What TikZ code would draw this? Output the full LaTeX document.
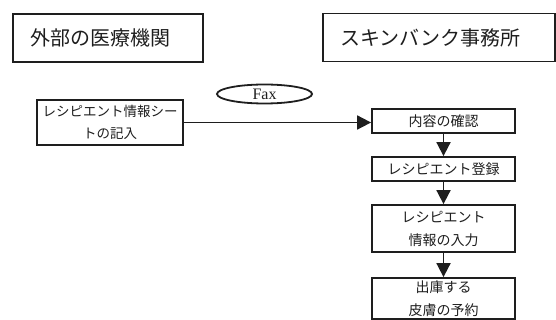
\documentclass[tikz,border=0pt]{standalone}
\usepackage{fontspec}
\setmainfont{Liberation Serif}
\newfontfamily\jp{Noto Sans CJK JP}
\usetikzlibrary{arrows.meta,shapes.geometric}
\definecolor{ink}{HTML}{1E1E1E}
\tikzset{
  header/.style={draw=ink, line width=1.9pt, rectangle, minimum height=48pt,
    font=\jp\fontsize{20}{22}\selectfont, align=left, inner xsep=17pt, inner ysep=0pt, text=ink},
  flowbox/.style={draw=ink, line width=1.8pt, rectangle, minimum width=143pt,
    font=\jp\fontsize{14}{23}\selectfont, align=center, inner sep=0pt, text=ink},
  faxoval/.style={draw=ink, line width=1.8pt, ellipse, minimum width=95pt, minimum height=19pt,
    inner sep=0pt, font=\fontsize{16}{18}\selectfont, text=ink},
  flow/.style={draw=ink, line width=1.8pt, -{Triangle[length=14pt,width=14pt]}}
}
\begin{document}
\begin{tikzpicture}[x=1pt,y=-1pt]
\useasboundingbox (0,0) rectangle (556,320);
\node[header, text width=156pt] (org) at (108,38) {外部の医療機関};
\node[header, text width=198pt] (bank) at (439,37.5) {スキンバンク事務所};
\node[flowbox, minimum width=146pt, minimum height=45pt, font=\jp\fontsize{13.5}{22}\selectfont] (sheet) at (110,122.5) {レシピエント情報シー\\トの記入};
\node[faxoval] (fax) at (264.5,94) {Fax};
\node[flowbox, minimum height=24pt] (check) at (443.5,121) {内容の確認};
\node[flowbox, minimum height=24pt] (reg) at (443.5,169) {レシピエント登録};
\node[flowbox, minimum height=47pt] (info) at (443.5,228.5) {レシピエント\\情報の入力};
\node[flowbox, minimum height=41pt] (stock) at (443.5,298.5) {出庫する\\皮膚の予約};
\draw[flow] (sheet.east) -- (sheet.east -| check.west);
\draw[flow] (check) -- (reg);
\draw[flow] (reg) -- (info);
\draw[flow] (info) -- (stock);
\end{tikzpicture}
\end{document}
